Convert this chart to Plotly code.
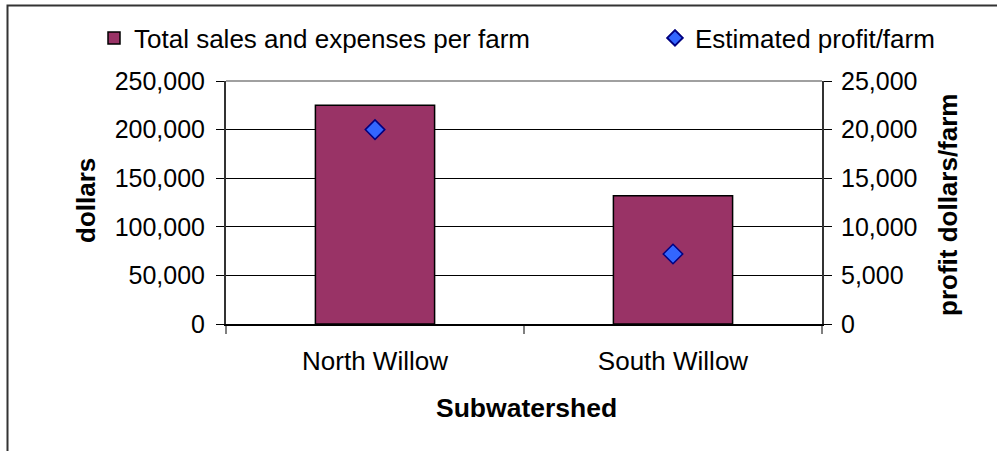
import plotly.graph_objects as go

# Data
categories = ["North Willow", "South Willow"]
sales_expenses = [225000, 132000]
profit = [20000, 7200]
left_ticks = [0, 50000, 100000, 150000, 200000, 250000]
right_ticks = [0, 5000, 10000, 15000, 20000, 25000]

W, H = 997, 451
L, R, T, B = 226, 175, 81, 127
PW, PH = W - L - R, H - T - B

def px_x(p):
    return (p - L) / PW

def px_y(p):
    return (H - B - p) / PH

FONT = "Liberation Sans, Arial, sans-serif"

fig = go.Figure()
fig.add_trace(go.Bar(
    x=categories, y=sales_expenses, name="Total sales and expenses per farm",
    marker=dict(color="#993366", line=dict(color="black", width=1.5)),
    width=0.4, yaxis="y", xaxis="x", legend="legend"))
fig.add_trace(go.Scatter(
    x=categories, y=profit, name="Estimated profit/farm", mode="markers",
    marker=dict(symbol="diamond", size=15, color="#3366FF",
                line=dict(color="#000080", width=1.5)),
    yaxis="y2", xaxis="x", legend="legend2"))

fig.update_layout(
    width=W, height=H,
    margin=dict(l=L, r=R, t=T, b=B, autoexpand=False),
    paper_bgcolor="white", plot_bgcolor="white",
    font=dict(family=FONT, size=25, color="black"),
    showlegend=True,
    legend=dict(orientation="h", x=px_x(94), y=px_y(38), xanchor="left", yanchor="middle",
                font=dict(size=26), bgcolor="rgba(0,0,0,0)"),
    legend2=dict(orientation="h", x=px_x(655), y=px_y(38), xanchor="left", yanchor="middle",
                 font=dict(size=26), bgcolor="rgba(0,0,0,0)", itemsizing="constant"),
    xaxis=dict(type="category", tickson="boundaries", ticks="outside", ticklen=8,
               tickcolor="#808080", tickwidth=2, showline=True, linecolor="black",
               linewidth=2, showgrid=False, zeroline=False, range=[-0.5, 1.5],
               tickfont=dict(size=26), ticklabelstandoff=13),
    xaxis2=dict(overlaying="x", anchor="y", range=[-0.5, 1.5], tickmode="array",
                tickvals=[-0.5, 0.5, 1.5], ticks="inside", ticklen=8,
                tickcolor="#808080", tickwidth=2, showticklabels=False,
                showgrid=False, zeroline=False, showline=False, side="bottom"),
    yaxis=dict(range=[0, 250000], tickmode="array", tickvals=left_ticks,
               tickformat=",d", ticks="outside", ticklen=8, tickcolor="black",
               showline=True, linecolor="#333333", linewidth=2, ticklabelstandoff=6,
               showgrid=True, gridcolor="black", gridwidth=1, zeroline=False),
    yaxis2=dict(range=[0, 25000], tickmode="array", tickvals=right_ticks,
                tickformat=",d", overlaying="y", side="right", anchor="x",
                ticks="outside", ticklen=8, tickcolor="black", ticklabelstandoff=4,
                showline=True, linecolor="#333333", linewidth=2,
                showgrid=False, zeroline=False),
    bargap=0.6,
    annotations=[
        dict(text="<b>dollars</b>", x=px_x(86), y=px_y(201), xref="paper", yref="paper",
             textangle=-90, showarrow=False, font=dict(size=26), xanchor="center", yanchor="middle"),
        dict(text="<b>profit dollars/farm</b>", x=px_x(948), y=px_y(205), xref="paper", yref="paper",
             textangle=-90, showarrow=False, font=dict(size=26), xanchor="center", yanchor="middle"),
        dict(text="<b>Subwatershed</b>", x=px_x(526), y=px_y(408), xref="paper", yref="paper",
             showarrow=False, font=dict(size=26.5), xanchor="center", yanchor="middle"),
    ],
    shapes=[
        dict(type="line", xref="paper", yref="paper", x0=0, x1=1, y0=1, y1=1,
             line=dict(color="#808080", width=1.5)),
        dict(type="rect", xref="paper", yref="paper", x0=px_x(7.5), x1=px_x(1010),
             y0=px_y(470), y1=px_y(5.5), line=dict(color="#333333", width=2)),
    ],
)

fig.write_html("out.html")
